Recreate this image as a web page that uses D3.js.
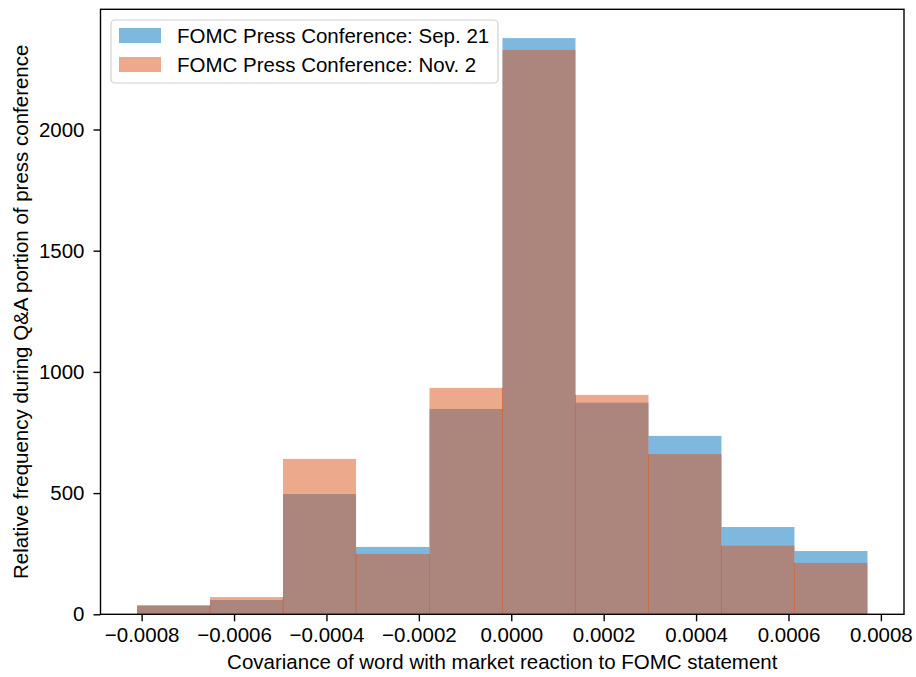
<!DOCTYPE html>
<html>
<head>
<meta charset="utf-8">
<script src="https://cdn.jsdelivr.net/npm/d3@7"></script>
<style>
  html, body { margin: 0; padding: 0; background: #fff; }
  svg { display: block; font-family: "Liberation Sans", Arial, sans-serif; }
</style>
</head>
<body>
<svg id="chart" width="916" height="677"></svg>
<script>
// ---- Data ----
const binEdges = [-0.000810, -0.000652, -0.000494, -0.000336, -0.000177, -0.000019,
                  0.000139, 0.000297, 0.000455, 0.000613, 0.000771];
const sepValues = [35, 59, 496, 278, 847, 2377, 873, 736, 360, 261];
const novValues = [38, 71, 641, 249, 934, 2328, 905, 661, 283, 212];
const seriesNames = ["FOMC Press Conference: Sep. 21", "FOMC Press Conference: Nov. 2"];
const xTickValues = [-0.0008, -0.0006, -0.0004, -0.0002, 0.0000, 0.0002, 0.0004, 0.0006, 0.0008];
const yTickValues = [0, 500, 1000, 1500, 2000];

const colors = ["#0072BD", "#D95319"];
const fontSize = 20.5;

const svg = d3.select("#chart");
const plot = { left: 100.5, right: 904, top: 9.3, bottom: 614.3 };

const lo = binEdges[0], hi = binEdges[binEdges.length - 1];
const span = hi - lo;
const x = d3.scaleLinear().domain([lo - 0.05 * span, hi + 0.05 * span]).range([plot.left, plot.right]);
const ymax = d3.max(sepValues.concat(novValues)) * 1.05;
const y = d3.scaleLinear().domain([0, ymax]).range([plot.bottom, plot.top]);

function bins(values) {
  return values.map((v, i) => ({ x0: binEdges[i], x1: binEdges[i + 1], v, i }));
}

const series = [bins(sepValues), bins(novValues)];

series.forEach((data, s) => {
  svg.append("g").selectAll("rect").data(data).join("rect")
    .attr("x", d => x(d.x0))
    .attr("width", d => x(d.x1) - x(d.x0))
    .attr("y", d => y(d.v))
    .attr("height", d => y(0) - y(d.v))
    .attr("fill", colors[s])
    .attr("fill-opacity", 0.5);
});

// thin seams between adjacent orange bars
const seams = d3.range(1, novValues.length).map(i => ({ e: binEdges[i], h: Math.min(novValues[i - 1], novValues[i]) }));
svg.append("g").selectAll("line").data(seams).join("line")
  .attr("x1", d => x(d.e)).attr("x2", d => x(d.e))
  .attr("y1", y(0)).attr("y2", d => y(d.h))
  .attr("stroke", colors[1]).attr("stroke-opacity", 0.55).attr("stroke-width", 1);

// ---- Axes ----
const fmtX = v => (v < 0 ? "\u2212" : "") + Math.abs(v).toFixed(4);
const xAxis = d3.axisBottom(x).tickValues(xTickValues).tickFormat(fmtX).tickSize(7).tickPadding(6);
const yAxis = d3.axisLeft(y).tickValues(yTickValues).tickFormat(d3.format("d")).tickSize(7).tickPadding(9);

const gx = svg.append("g").attr("transform", `translate(0,${plot.bottom})`).call(xAxis);
const gy = svg.append("g").attr("transform", `translate(${plot.left},0)`).call(yAxis);
[gx, gy].forEach(g => {
  g.select(".domain").remove();
  g.selectAll(".tick line").attr("stroke", "#000").attr("stroke-width", 1.4);
  g.selectAll(".tick text").attr("fill", "#000").attr("font-size", fontSize)
    .attr("font-family", "Liberation Sans, Arial, sans-serif");
});

// frame
svg.append("rect")
  .attr("x", plot.left).attr("y", plot.top)
  .attr("width", plot.right - plot.left).attr("height", plot.bottom - plot.top)
  .attr("fill", "none").attr("stroke", "#000").attr("stroke-width", 1.4);

// axis labels
svg.append("text")
  .attr("x", (plot.left + plot.right) / 2).attr("y", 669)
  .attr("text-anchor", "middle").attr("font-size", fontSize).attr("fill", "#000")
  .text("Covariance of word with market reaction to FOMC statement");

svg.append("text")
  .attr("transform", `translate(28,${(plot.top + plot.bottom) / 2}) rotate(-90)`)
  .attr("text-anchor", "middle").attr("font-size", fontSize).attr("fill", "#000")
  .text("Relative frequency during Q&A portion of press conference");

// ---- Legend ----
const lg = svg.append("g");
lg.append("rect")
  .attr("x", 111).attr("y", 20).attr("width", 387).attr("height", 63)
  .attr("rx", 4).attr("ry", 4)
  .attr("fill", "#fff").attr("fill-opacity", 0.8)
  .attr("stroke", "#d0d0d0").attr("stroke-width", 1.2);
seriesNames.forEach((name, i) => {
  const yy = 28 + i * 29;
  lg.append("rect").attr("x", 119).attr("y", yy).attr("width", 42).attr("height", 15)
    .attr("fill", colors[i]).attr("fill-opacity", 0.5);
  lg.append("text").attr("x", 177).attr("y", yy + 15)
    .attr("font-size", fontSize).attr("fill", "#000").text(name);
});
</script>
</body>
</html>
